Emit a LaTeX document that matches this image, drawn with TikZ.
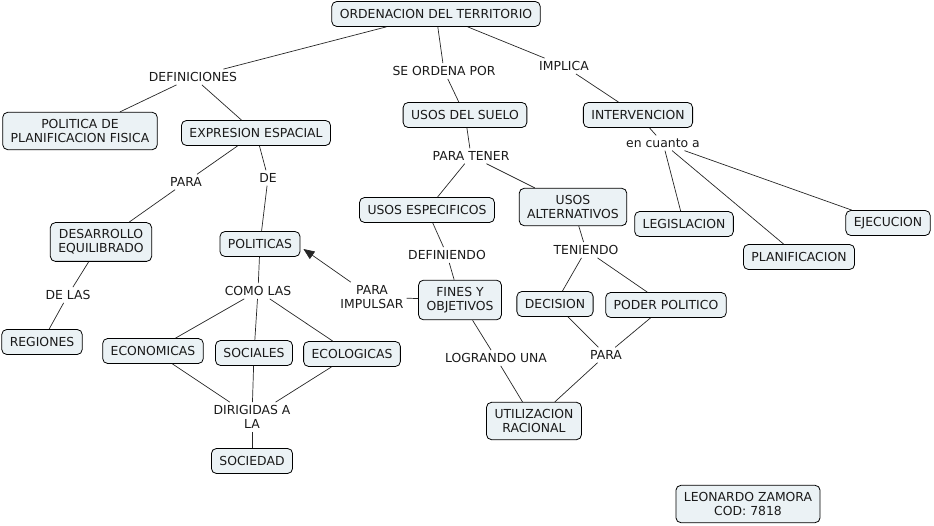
\documentclass[tikz,border=0pt]{standalone}
\usepackage{fontspec}
\setmainfont{DejaVu Sans}
\usetikzlibrary{arrows.meta}
\definecolor{boxfill}{HTML}{EBF2F5}
\definecolor{txt}{HTML}{1A1A1A}
\tikzset{
  concept/.style={draw=black, line width=0.8pt, fill=boxfill, rounded corners=5pt,
    minimum height=25pt, inner xsep=8pt, inner ysep=4pt, align=center,
    font=\fontsize{12.4}{14}\selectfont, text=txt},
  concepttwo/.style={concept, inner ysep=7pt},
  lbl/.style={inner sep=3pt, align=center, font=\fontsize{12.4}{14}\selectfont, text=txt},
  conn/.style={line width=0.7pt, draw=black!85},
}
\begin{document}
\begin{tikzpicture}[x=1pt,y=-1pt]
\useasboundingbox (0,0) rectangle (934,526);
% concepts
\node[concept] (ord) at (436,14) {ORDENACION DEL TERRITORIO};
\node[concepttwo] (pol) at (80,131) {POLITICA DE\\PLANIFICACION FISICA};
\node[concept] (exp) at (256,133) {EXPRESION ESPACIAL};
\node[concept] (usos) at (465,115) {USOS DEL SUELO};
\node[concept] (int) at (638,115) {INTERVENCION};
\node[concept] (esp) at (427,210) {USOS ESPECIFICOS};
\node[concepttwo] (alt) at (573,207) {USOS\\ALTERNATIVOS};
\node[concept] (leg) at (684,224) {LEGISLACION};
\node[concept] (eje) at (888,223) {EJECUCION};
\node[concept] (pla) at (799,257) {PLANIFICACION};
\node[concepttwo] (des) at (101,242) {DESARROLLO\\EQUILIBRADO};
\node[concept] (pols) at (260,244) {POLITICAS};
\node[concepttwo] (fin) at (460,300) {FINES Y\\OBJETIVOS};
\node[concept] (dec) at (555,304) {DECISION};
\node[concept] (pod) at (666,305) {PODER POLITICO};
\node[concept] (reg) at (42,342) {REGIONES};
\node[concept] (eco) at (153,351) {ECONOMICAS};
\node[concept] (soc) at (254,353) {SOCIALES};
\node[concept] (ecl) at (352,354) {ECOLOGICAS};
\node[concepttwo] (uti) at (534,421) {UTILIZACION\\RACIONAL};
\node[concept] (sod) at (252,461) {SOCIEDAD};
\node[concepttwo] (leo) at (748,504) {LEONARDO ZAMORA\\COD: 7818};
% labels
\node[lbl] (ldef) at (193,77) {DEFINICIONES};
\node[lbl] (lord) at (444,71) {SE ORDENA POR};
\node[lbl] (limp) at (564,66) {IMPLICA};
\node[lbl] (lpara1) at (186,182) {PARA};
\node[lbl] (lde) at (268,178) {DE};
\node[lbl] (lten) at (471,156) {PARA TENER};
\node[lbl] (lcua) at (663,143) {en cuanto a};
\node[lbl] (ldefi) at (447,255) {DEFINIENDO};
\node[lbl] (lteni) at (586,250) {TENIENDO};
\node[lbl] (ldel) at (68,295) {DE LAS};
\node[lbl] (lcom) at (258,291) {COMO LAS};
\node[lbl] (limpu) at (372,297) {PARA\\IMPULSAR};
\node[lbl] (llog) at (496,358) {LOGRANDO UNA};
\node[lbl] (lpara2) at (606,355) {PARA};
\node[lbl] (ldir) at (252,417) {DIRIGIDAS A\\LA};
% connectors
\draw[conn] (ord) -- (ldef);
\draw[conn] (ldef) -- (pol);
\draw[conn] (ldef) -- (exp);
\draw[conn] (ord) -- (lord);
\draw[conn] (lord) -- (usos);
\draw[conn] (ord) -- (limp);
\draw[conn] (limp) -- (int);
\draw[conn] (exp) -- (lpara1);
\draw[conn] (lpara1) -- (des);
\draw[conn] (exp) -- (lde);
\draw[conn] (lde) -- (pols);
\draw[conn] (des) -- (ldel);
\draw[conn] (ldel) -- (reg);
\draw[conn] (pols) -- (lcom);
\draw[conn] (lcom) -- (eco);
\draw[conn] (lcom) -- (soc);
\draw[conn] (lcom) -- (ecl);
\draw[conn] (eco) -- (ldir);
\draw[conn] (soc) -- (ldir);
\draw[conn] (ecl) -- (ldir);
\draw[conn] (ldir) -- (sod);
\draw[conn] (fin) -- (limpu);
\draw[conn, -{Triangle[length=11pt,width=9pt]}] (limpu) -- ([xshift=3pt,yshift=-5pt]pols.east);
\draw[conn] (usos) -- (lten);
\draw[conn] (lten) -- (esp);
\draw[conn] (lten) -- (alt);
\draw[conn] (esp) -- (ldefi);
\draw[conn] (ldefi) -- (fin);
\draw[conn] (alt) -- (lteni);
\draw[conn] (lteni) -- (dec);
\draw[conn] (lteni) -- (pod);
\draw[conn] (dec) -- (lpara2);
\draw[conn] (pod) -- (lpara2);
\draw[conn] (lpara2) -- (uti);
\draw[conn] (fin) -- (llog);
\draw[conn] (llog) -- (uti);
\draw[conn] (int) -- (lcua);
\draw[conn] (lcua) -- (leg);
\draw[conn] (lcua) -- (pla);
\draw[conn] (lcua) -- (eje);
\end{tikzpicture}
\end{document}
